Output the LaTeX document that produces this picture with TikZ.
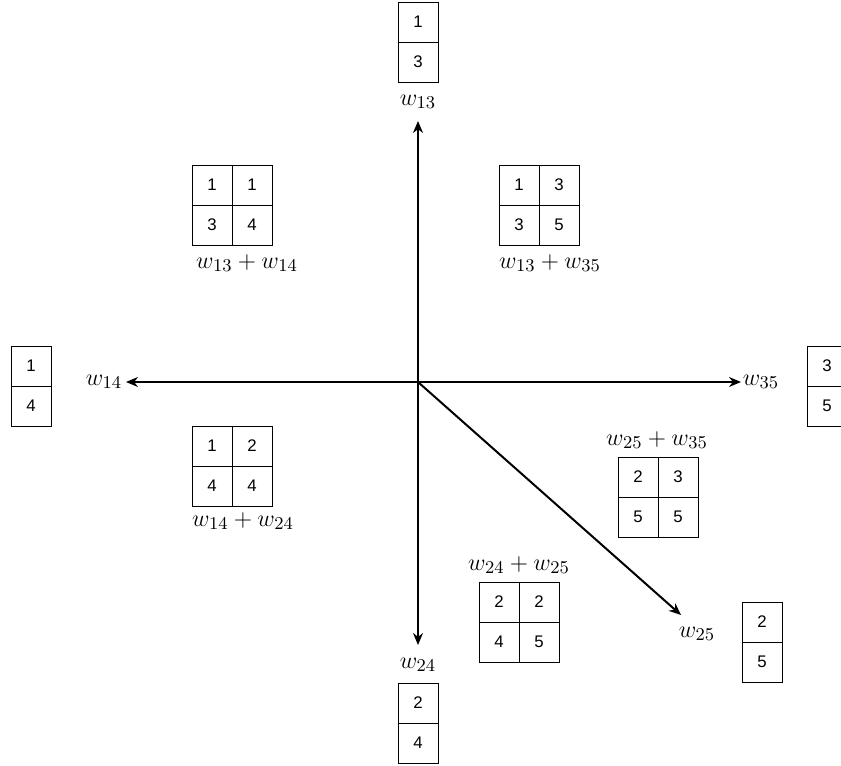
\documentclass[tikz,border=0pt]{standalone}
\usepackage{fontspec}
\setsansfont{Liberation Sans}
\usetikzlibrary{arrows.meta}
\begin{document}
\begin{tikzpicture}[x=0.5pt,y=-0.5pt,
  cell/.style={draw,line width=0.5pt,minimum width=20pt,minimum height=20pt,inner sep=0pt,
    font=\sffamily\fontsize{8.4}{10}\selectfont},
  lab/.style={inner sep=0pt,font=\fontsize{13}{15}\selectfont},
  axis/.style={line width=1pt,-{Stealth[length=6pt,width=5pt]}}]
\clip (0,0) rectangle (841,766);
% center
\coordinate (O) at (418,382);
% axis tips
\coordinate (tN) at (418,121);
\coordinate (tW) at (126,382);
\coordinate (tE) at (741,382);
\coordinate (tS) at (418,645);
\coordinate (tD) at (681,615);
\draw[axis] (O) -- (tN);
\draw[axis] (O) -- (tW);
\draw[axis] (O) -- (tE);
\draw[axis] (O) -- (tS);
\draw[axis] (O) -- (tD);
% top column
\node[cell] (a1) at (418,22) {1};
\node[cell] (a2) at (418,62) {3};
\node[lab] (l13) at (418,102) {$w_{13}$};
% left column
\node[cell] (b1) at (31,366) {1};
\node[cell] (b2) at (31,406) {4};
\node[lab] (l14) at (104,382) {$w_{14}$};
% right column
\node[cell] (c1) at (827,366) {3};
\node[cell] (c2) at (827,406) {5};
\node[lab] (l35) at (761,382) {$w_{35}$};
% bottom column
\node[cell] (d1) at (418,703) {2};
\node[cell] (d2) at (418,743) {4};
\node[lab] (l24) at (418,665) {$w_{24}$};
% bottom right column
\node[cell] (e1) at (762,622) {2};
\node[cell] (e2) at (762,662) {5};
\node[lab] (l25) at (697,634) {$w_{25}$};
% top-left 2x2
\node[cell] (f1) at (212,185) {1};
\node[cell] (f2) at (252,185) {1};
\node[cell] (f3) at (212,225) {3};
\node[cell] (f4) at (252,225) {4};
\node[lab] (lf) at (247,263) {$w_{13}+w_{14}$};
% top-right 2x2
\node[cell] (g1) at (519,185) {1};
\node[cell] (g2) at (559,185) {3};
\node[cell] (g3) at (519,225) {3};
\node[cell] (g4) at (559,225) {5};
\node[lab] (lg) at (550,263) {$w_{13}+w_{35}$};
% bottom-left 2x2
\node[cell] (h1) at (212,446) {1};
\node[cell] (h2) at (252,446) {2};
\node[cell] (h3) at (212,486) {4};
\node[cell] (h4) at (252,486) {4};
\node[lab] (lh) at (243,521) {$w_{14}+w_{24}$};
% right 2x2
\node[cell] (i1) at (638,477) {2};
\node[cell] (i2) at (678,477) {3};
\node[cell] (i3) at (638,517) {5};
\node[cell] (i4) at (678,517) {5};
\node[lab] (li) at (657,440) {$w_{25}+w_{35}$};
% bottom 2x2
\node[cell] (j1) at (499,602) {2};
\node[cell] (j2) at (539,602) {2};
\node[cell] (j3) at (499,642) {4};
\node[cell] (j4) at (539,642) {5};
\node[lab] (lj) at (519,565) {$w_{24}+w_{25}$};
\end{tikzpicture}
\end{document}
